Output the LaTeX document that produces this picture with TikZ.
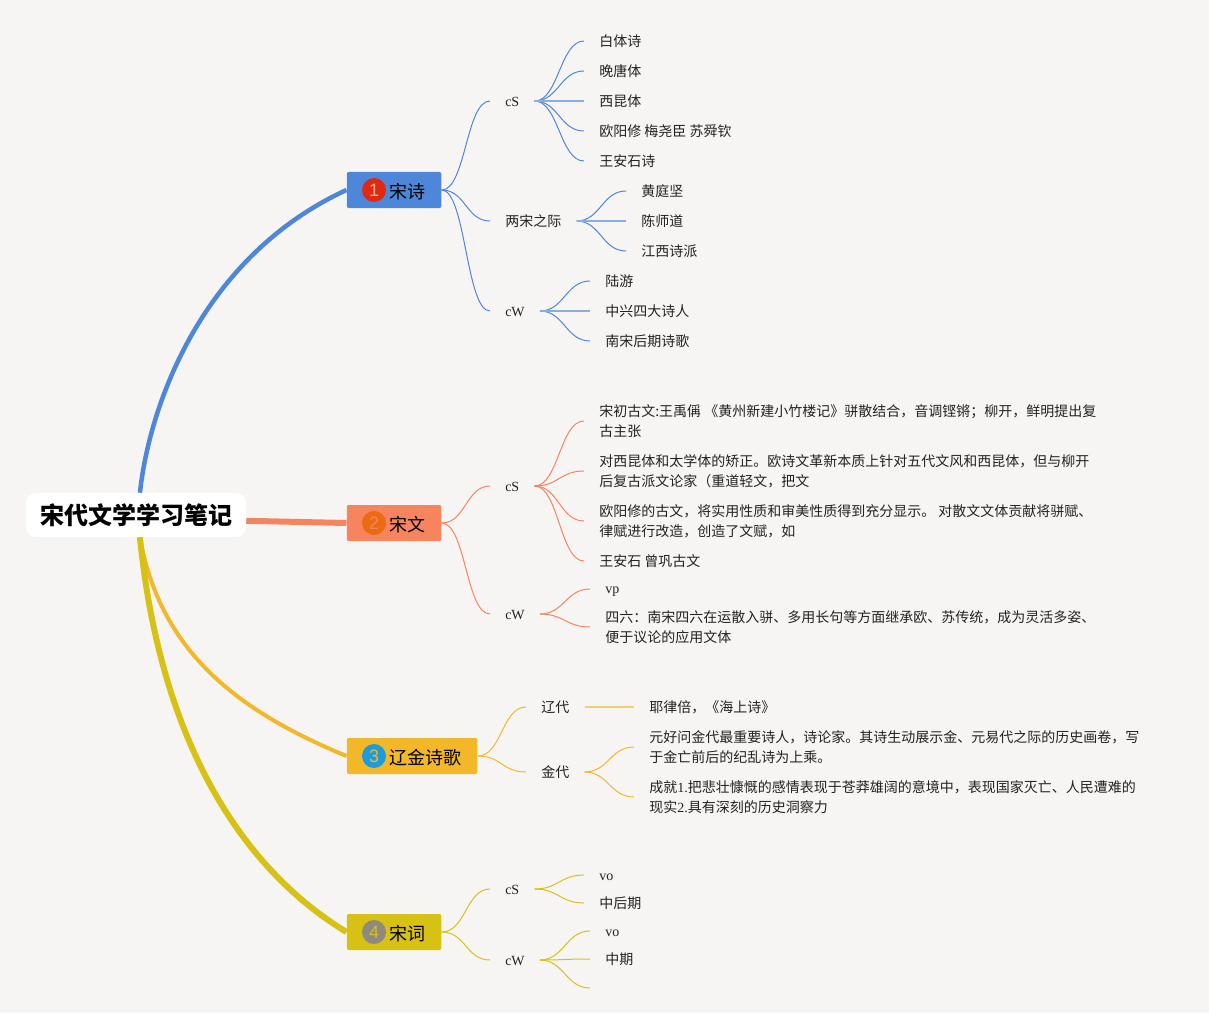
\documentclass[tikz,border=0pt]{standalone}
\usepackage{fontspec}
\setmainfont{Liberation Serif}
\newfontfamily\cjk{Noto Sans CJK SC}
\newfontfamily\digit{Liberation Sans}
\definecolor{paper}{HTML}{F7F5F4}
\definecolor{songshi}{HTML}{4E87D9}
\definecolor{songwen}{HTML}{F5845F}
\definecolor{liaojin}{HTML}{F3B72A}
\definecolor{songci}{HTML}{D8C115}
\definecolor{inktext}{HTML}{222222}
\definecolor{dotred}{HTML}{DD2A10}
\definecolor{dotorange}{HTML}{EC6A12}
\definecolor{dotblue}{HTML}{1E9BDC}
\definecolor{dotgrey}{HTML}{8E8A80}
\newcommand{\lat}[1]{{\rmfamily #1}\vphantom{中}}
\newcommand{\bname}[1]{\hspace*{20pt}#1}
\tikzset{
	leaf/.style={anchor=west, inner xsep=11.25pt, inner ysep=1pt, align=left, text=inktext, font=\cjk\fontsize{10.5}{15}\selectfont},
	branch/.style={anchor=west, rounded corners=1.5pt, minimum height=27pt, inner xsep=12pt, inner ysep=0pt, text height=16pt, text depth=3.8pt, text=black, font=\cjk\fontsize{13.5}{16}\selectfont},
	badge/.style={circle, minimum size=18pt, inner sep=0pt, font=\digit\fontsize{13.5}{16}\selectfont},
	twig/.style={line width=.75pt},
	flat/.style={line width=1.2pt},
}
\begin{document}
\begin{tikzpicture}[x=.75pt, y=-.75pt]
	\useasboundingbox (0,0) rectangle (1209,1013);
	\fill [paper] (0,0) rectangle (1209,1013);

	\node (root) [fill=white, rounded corners=7pt, minimum width=165pt, minimum height=33pt, inner sep=0pt, font=\cjk\bfseries\fontsize{18}{20}\selectfont] at (136,515) {宋代文学学习笔记};

	% branches
	\node (shi) [branch, fill=songshi] at (346.5,190) {\bname{宋诗}};
	\node (wen) [branch, fill=songwen] at (346.5,523) {\bname{宋文}};
	\node (liaojinshi) [branch, fill=liaojin] at (346.5,756) {\bname{辽金诗歌}};
	\node (ci) [branch, fill=songci] at (346.5,932) {\bname{宋词}};
	\node (badgeA) [badge, fill=dotred, text=songwen!70!white] at (374,190) {1};
	\node (badgeB) [badge, fill=dotorange, text=songwen] at (374,523) {2};
	\node (badgeC) [badge, fill=dotblue, text=liaojin] at (374,756) {3};
	\node (badgeD) [badge, fill=dotgrey, text=songci] at (374,932) {4};

	\draw [songshi, line width=3.4pt] (root.80) .. controls (150,400) and (205,255) .. (shi.west);
	\draw [songwen, line width=4.5pt] (root.-3) -- (wen.west);
	\draw [liaojin, line width=3pt] (root.280) .. controls (160,650) and (235,710) .. (liaojinshi.west);
	\draw [songci, line width=4.5pt] (root.280) .. controls (158,720) and (228,860) .. (ci.west);

	% song shi
	\node (shiS) [leaf] at (490,101) {\lat{cS}};
	\node (shiM) [leaf] at (490,221) {两宋之际};
	\node (shiW) [leaf] at (490,311) {\lat{cW}};
	\node (shiSa) [leaf] at (584,41) {白体诗};
	\node (shiSb) [leaf] at (584,71) {晚唐体};
	\node (shiSc) [leaf] at (584,101) {西昆体};
	\node (shiSd) [leaf] at (584,131) {欧阳修 梅尧臣 苏舜钦};
	\node (shiSe) [leaf] at (584,161) {王安石诗};
	\node (shiMa) [leaf] at (626,191) {黄庭坚};
	\node (shiMb) [leaf] at (626,221) {陈师道};
	\node (shiMc) [leaf] at (626,251) {江西诗派};
	\node (shiWa) [leaf] at (590,281) {陆游};
	\node (shiWb) [leaf] at (590,311) {中兴四大诗人};
	\node (shiWc) [leaf] at (590,341) {南宋后期诗歌};

	% song wen
	\node (wenS) [leaf] at (490,486) {\lat{cS}};
	\node (wenW) [leaf] at (490,614) {\lat{cW}};
	\node (wenSa) [leaf] at (584,421) {宋初古文:王禹偁 《黄州新建小竹楼记》骈散结合，音调铿锵；柳开，鲜明提出复\\古主张};
	\node (wenSb) [leaf] at (584,471) {对西昆体和太学体的矫正。欧诗文革新本质上针对五代文风和西昆体，但与柳开\\后复古派文论家（重道轻文，把文};
	\node (wenSc) [leaf] at (584,521) {欧阳修的古文，将实用性质和审美性质得到充分显示。 对散文文体贡献将骈赋、\\律赋进行改造，创造了文赋，如};
	\node (wenSd) [leaf] at (584,561) {王安石 曾巩古文};
	\node (wenWa) [leaf] at (590,589) {\lat{vp}};
	\node (wenWb) [leaf] at (590,627) {四六：南宋四六在运散入骈、多用长句等方面继承欧、苏传统，成为灵活多姿、\\便于议论的应用文体};

	% liao jin
	\node (liao) [leaf] at (526,707) {辽代};
	\node (jin) [leaf] at (526,772) {金代};
	\node (liaoa) [leaf] at (634,707) {耶律倍，《海上诗》};
	\node (jina) [leaf] at (634,747) {元好问金代最重要诗人，诗论家。其诗生动展示金、元易代之际的历史画卷，写\\于金亡前后的纪乱诗为上乘。};
	\node (jinb) [leaf] at (634,797) {成就{\rmfamily 1.}把悲壮慷慨的感情表现于苍莽雄阔的意境中，表现国家灭亡、人民遭难的\\现实{\rmfamily 2.}具有深刻的历史洞察力};

	% song ci
	\node (ciS) [leaf] at (490,889) {\lat{cS}};
	\node (ciW) [leaf] at (490,960) {\lat{cW}};
	\node (ciSa) [leaf] at (584,875) {\lat{vo}};
	\node (ciSb) [leaf] at (584,903) {中后期};
	\node (ciWa) [leaf] at (590,931) {\lat{vo}};
	\node (ciWb) [leaf] at (590,959) {中期};
	\node (ciWc) [leaf] at (590,988) {};

	% connectors
	\foreach \src/\dst in {shi/shiS, shi/shiM, shi/shiW, shiS/shiSa, shiS/shiSb, shiS/shiSd, shiS/shiSe, shiM/shiMa, shiM/shiMc, shiW/shiWa, shiW/shiWc}
		\draw [twig, songshi] (\src.east) .. controls +(24,0) and +(-24,0) .. (\dst.west);
	\foreach \src/\dst in {wen/wenS, wen/wenW, wenS/wenSa, wenS/wenSb, wenS/wenSc, wenS/wenSd, wenW/wenWa, wenW/wenWb}
		\draw [twig, songwen] (\src.east) .. controls +(24,0) and +(-24,0) .. (\dst.west);
	\foreach \src/\dst in {liaojinshi/liao, liaojinshi/jin, jin/jina, jin/jinb}
		\draw [twig, liaojin] (\src.east) .. controls +(24,0) and +(-24,0) .. (\dst.west);
	\foreach \src/\dst in {ci/ciS, ci/ciW, ciS/ciSa, ciS/ciSb, ciW/ciWa, ciW/ciWb, ciW/ciWc}
		\draw [twig, songci] (\src.east) .. controls +(24,0) and +(-24,0) .. (\dst.west);
	\foreach \src/\dst in {shiS/shiSc, shiM/shiMb, shiW/shiWb}
		\draw [flat, songshi!65!paper] (\src.east) -- (\dst.west);
	\draw [flat, liaojin!65!paper] (liao.east) -- (liaoa.west);
\end{tikzpicture}
\end{document}
